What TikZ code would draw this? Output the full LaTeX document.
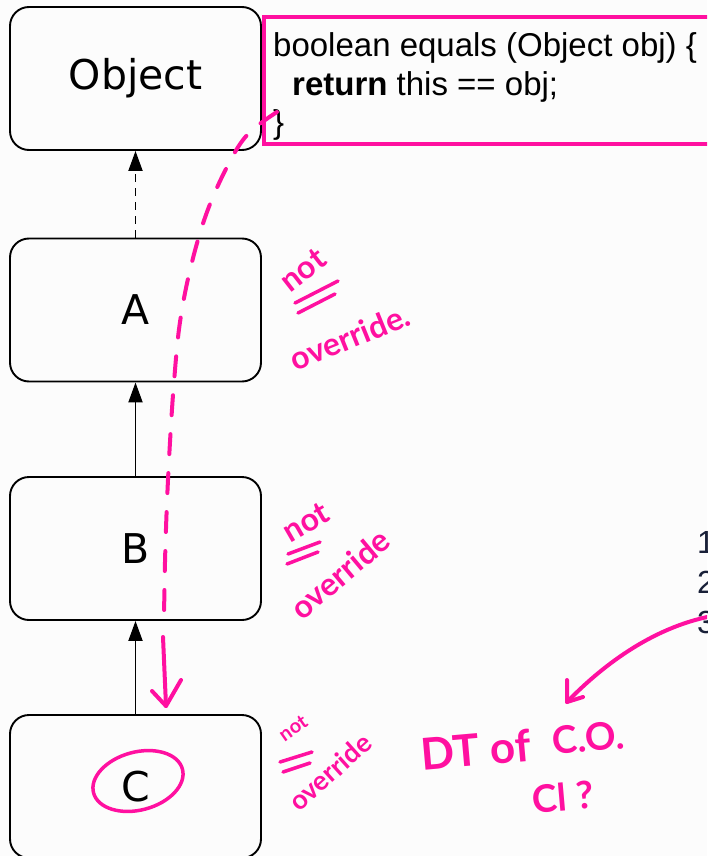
\documentclass[tikz,border=0pt]{standalone}
\usepackage{fontspec}
\setmainfont{DejaVu Sans}
\newfontfamily\codefont{Liberation Sans}
\newfontfamily\handfont{Lato}
\usetikzlibrary{arrows.meta,calc}
\definecolor{pinkhl}{RGB}{255,16,160}
\definecolor{navy}{RGB}{25,32,56}
\definecolor{bgc}{RGB}{252,252,252}
\begin{document}
\begin{tikzpicture}[x=1pt,y=-1pt,
 classbox/.style={draw=black,line width=1.9pt,rounded corners=19pt,minimum width=251pt,minimum height=143pt,fill=bgc,inner sep=0pt,font=\fontsize{41}{49}\selectfont},
 inherit/.style={line width=1.9pt,-{Triangle[length=20pt,width=14pt]}},
 ink/.style={draw=pinkhl,line width=4pt,line cap=round,line join=round},
 codetext/.style={inner sep=0pt,anchor=base west,font=\codefont\fontsize{33}{40}\selectfont},
 numtext/.style={inner sep=0pt,anchor=base west,text=navy,font=\codefont\fontsize{32}{40}\selectfont},
 hand/.style={text=pinkhl,inner sep=0pt,font=\handfont\bfseries\fontsize{32}{34}\selectfont},
]
\clip (0,0) rectangle (707,856);
\fill[bgc] (0,0) rectangle (707,856);

% class boxes
\node[classbox] (obj) at (135.5,78.5) {Object};
\node[classbox] (a) at (135.5,310) {A};
\node[classbox] (b) at (135.5,548.5) {B};
\node[classbox] (c) at (135.5,786.5) {C};

\draw[inherit,dash pattern=on 8pt off 6pt] (a.north) -- (obj.south);
\draw[inherit] (b.north) -- (a.south);
\draw[inherit] (c.north) -- (b.south);

% code box
\node[draw=pinkhl,line width=4pt,anchor=north west,minimum width=480pt,minimum height=127pt,inner sep=0pt] (code) at (262,15) {};
\node[codetext] (l1) at (273,57) {boolean equals (Object obj) \{};
\node[codetext] (l2) at (292,96) {\textbf{return} this == obj;};
\node[codetext] (l3) at (273,134) {\}};

% numbers at right edge
\node[numtext] (n1) at (697,553) {1.};
\node[numtext] (n2) at (697,593) {2.};
\node[numtext] (n3) at (697,633) {3.};

% pink dashed path from code box to C
\coordinate (p0) at (277,112);
\coordinate (p1) at (248,134);
\coordinate (p2) at (228,165);
\coordinate (p3) at (207,212);
\coordinate (p4) at (191,266);
\coordinate (p5) at (180,322);
\coordinate (p6) at (174,382);
\coordinate (p7) at (170,442);
\coordinate (p8) at (167,502);
\coordinate (p9) at (165,562);
\coordinate (p10) at (164,618);
\draw[ink,dash pattern=on 20pt off 19pt] plot[smooth,tension=0.6] coordinates {(p0) (p1) (p2) (p3) (p4) (p5) (p6) (p7) (p8) (p9) (p10)};
\coordinate (q0) at (163,637);
\coordinate (q1) at (166,706);
\coordinate (q2) at (152,691);
\coordinate (q3) at (181,680);
\draw[ink] (q0) -- (q1);
\draw[ink] (q2) -- (q1) -- (q3);

% circle round C
\draw[ink,line width=3.5pt,rotate around={15:(138,781)}] (138,781) ellipse [x radius=46, y radius=29];

% arrow from item 3
\coordinate (r0) at (712,616);
\coordinate (r1) at (567,702);
\coordinate (r2) at (567,680);
\coordinate (r3) at (583,697);
\draw[ink] (r0) .. controls (650,628) and (600,668) .. (r1);
\draw[ink] (r2) -- (r1) -- (r3);

% annotations next to A
\node[hand,rotate=38] (na) at (303,270) {not};
\draw[ink,line width=3.5pt] (295,303) -- (338,281);
\draw[ink,line width=3.5pt] (298,313) -- (335,294);
\node[hand,rotate=22] (oa) at (350,337) {override.};

% annotations next to B
\node[hand,rotate=30] (nb) at (306,522) {not};
\draw[ink,line width=3.5pt] (288,554) -- (320,542);
\draw[ink,line width=3.5pt] (287,564) -- (318,552);
\node[hand,rotate=40] (ob) at (340,574) {override};

% annotations next to C
\node[hand,rotate=35,font=\handfont\bfseries\fontsize{20}{22}\selectfont] (nc) at (293,728) {not};
\draw[ink,line width=3.5pt] (280,762) -- (312,752);
\draw[ink,line width=3.5pt] (283,772) -- (310,763);
\node[hand,rotate=42,font=\handfont\bfseries\fontsize{27}{29}\selectfont] (oc) at (330,772) {override};

\node[hand,font=\handfont\bfseries\fontsize{44}{46}\selectfont,rotate=5] (dt) at (476,750) {DT of};
\node[hand,font=\handfont\bfseries\fontsize{38}{40}\selectfont,rotate=5] (co) at (588,738) {C.O.};
\node[hand,font=\handfont\bfseries\fontsize{38}{40}\selectfont,rotate=5] (cl) at (563,797) {Cl ?};
\end{tikzpicture}
\end{document}
